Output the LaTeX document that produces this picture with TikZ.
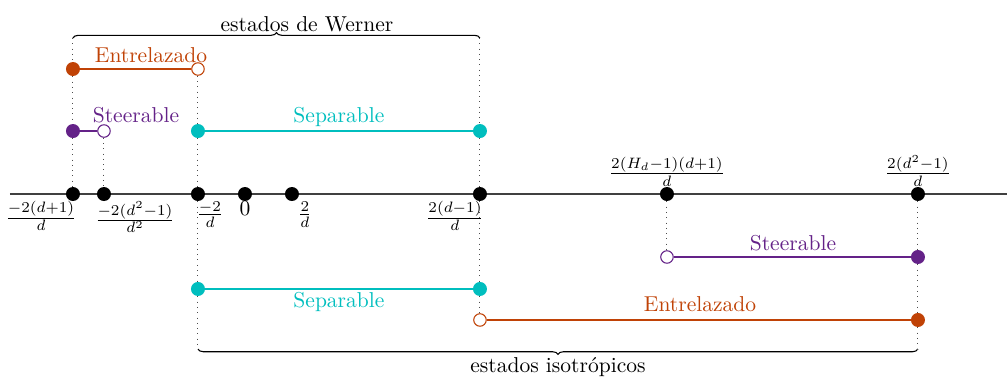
\documentclass[tikz,border=0pt]{standalone}
\usetikzlibrary{decorations.pathreplacing}
\definecolor{estadoRojo}{RGB}{192,66,6}
\definecolor{estadoMorado}{RGB}{100,34,136}
\definecolor{estadoCian}{RGB}{0,190,190}

\begin{document}
\begin{tikzpicture}[
  punto/.style={circle,fill,inner sep=0pt,minimum size=6.5pt},
  lleno/.style={circle,fill=#1,inner sep=0pt,minimum size=6.5pt},
  abierto/.style={circle,draw=#1,fill=white,inner sep=0pt,minimum size=5.8pt,line width=0.5pt},
  tramo/.style={#1,line width=0.6pt},
  guia/.style={dotted,black!70,line width=0.45pt},
  llave/.style={decorate,decoration={brace,amplitude=2.5pt},line width=0.5pt}
]
  \useasboundingbox (-3.998,-2.987) rectangle (12.436,3.166);
  % eje
  \coordinate (ejeIzq) at (-3.835,0);
  \coordinate (ejeDer) at (12.436,0);
  \draw[black!75,line width=0.5pt] (ejeIzq) -- (ejeDer);
  \node[punto] (a1) at (-2.807,0) {};
  \node[punto] (a2) at (-2.301,0) {};
  \node[punto] (a3) at (-0.767,0) {};
  \node[punto] (a4) at (0,0) {};
  \node[punto] (a5) at (0.767,0) {};
  \node[punto] (a6) at (3.835,0) {};
  \node[punto] (a7) at (6.887,0) {};
  \node[punto] (a8) at (10.983,0) {};
  \node[below] (la1) at (-3.329,0) {$\frac{-2(d+1)}{d}$};
  \node[below] (la2) at (-1.795,0) {$\frac{-2(d^2-1)}{d^2}$};
  \node[below] (la3) at (-0.571,0) {$\frac{-2}{d}$};
  \node[below] (la4) at (0,0) {$0$};
  \node[below] (la5) at (0.979,0) {$\frac{2}{d}$};
  \node[below] (la6) at (3.427,0) {$\frac{2(d-1)}{d}$};
  \node[above] (la7) at (6.887,0) {$\frac{2(H_d-1)(d+1)}{d}$};
  \node[above] (la8) at (10.983,0) {$\frac{2(d^2-1)}{d}$};

  % estados de Werner
  \node[lleno=estadoRojo] (eA) at (-2.807,2.040) {};
  \node[abierto=estadoRojo] (eB) at (-0.767,2.040) {};
  \node[lleno=estadoMorado] (sA) at (-2.807,1.028) {};
  \node[abierto=estadoMorado] (sB) at (-2.301,1.028) {};
  \node[lleno=estadoCian] (pA) at (-0.767,1.028) {};
  \node[lleno=estadoCian] (pB) at (3.835,1.028) {};
  \draw[tramo=estadoRojo] (eA) -- (eB);
  \draw[tramo=estadoMorado] (sA) -- (sB);
  \draw[tramo=estadoCian] (pA) -- (pB);
  \node[text=estadoRojo,anchor=base] (tEntA) at (-1.534,2.154) {Entrelazado};
  \node[text=estadoMorado,anchor=base] (tSteA) at (-1.779,1.159) {Steerable};
  \node[text=estadoCian,anchor=base] (tSepA) at (1.534,1.175) {Separable};

  % estados isotropicos
  \node[abierto=estadoMorado] (tA) at (6.887,-1.028) {};
  \node[lleno=estadoMorado] (tB) at (10.983,-1.028) {};
  \node[lleno=estadoCian] (qA) at (-0.767,-1.550) {};
  \node[lleno=estadoCian] (qB) at (3.835,-1.550) {};
  \node[abierto=estadoRojo] (rA) at (3.835,-2.056) {};
  \node[lleno=estadoRojo] (rB) at (10.983,-2.056) {};
  \draw[tramo=estadoMorado] (tA) -- (tB);
  \draw[tramo=estadoCian] (qA) -- (qB);
  \draw[tramo=estadoRojo] (rA) -- (rB);
  \node[text=estadoMorado,anchor=base] (tSteB) at (8.943,-0.914) {Steerable};
  \node[text=estadoCian,anchor=base] (tSepB) at (1.534,-1.860) {Separable};
  \node[text=estadoRojo,anchor=base] (tEntB) at (7.426,-1.921) {Entrelazado};

  % llaves
  \coordinate (wIzq) at (-2.807,2.546);
  \coordinate (wDer) at (3.835,2.546);
  \coordinate (iIzq) at (-0.767,-2.530);
  \coordinate (iDer) at (10.983,-2.530);
  \draw[llave] (wIzq) -- (wDer);
  \draw[llave] (iDer) -- (iIzq);
  \node (tWerner) at (1.012,2.774) {estados de Werner};
  \node (tIso) at (5.108,-2.823) {estados isotrópicos};

  % guias punteadas
  \draw[guia] (wIzq) -- (eA);
  \draw[guia] (eA) -- (sA);
  \draw[guia] (sA) -- (a1);
  \draw[guia] (sB) -- (a2);
  \draw[guia] (eB) -- (pA);
  \draw[guia] (pA) -- (a3);
  \draw[guia] (a3) -- (qA);
  \draw[guia] (qA) -- (iIzq);
  \draw[guia] (wDer) -- (pB);
  \draw[guia] (pB) -- (a6);
  \draw[guia] (a6) -- (qB);
  \draw[guia] (qB) -- (rA);
  \draw[guia] (a7) -- (tA);
  \draw[guia] (a8) -- (tB);
  \draw[guia] (tB) -- (rB);
  \draw[guia] (rB) -- (iDer);
\end{tikzpicture}
\end{document}
